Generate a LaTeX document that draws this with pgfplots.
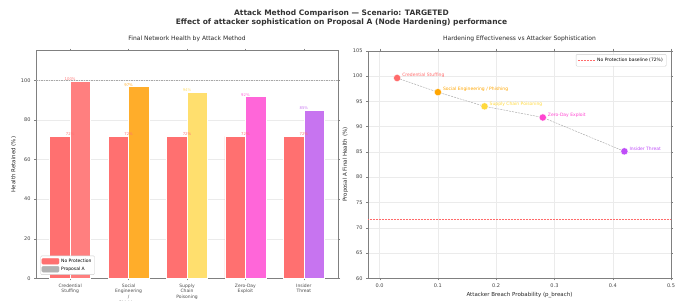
\documentclass[border=0pt]{standalone}
\usepackage{fontspec}
\setmainfont{DejaVu Sans}
\usepackage{pgfplots}
\pgfplotsset{compat=1.18}
\definecolor{noprot}{HTML}{FF7070}
\definecolor{cA}{HTML}{FF7F7F}
\definecolor{sA}{HTML}{FFAD2A}
\definecolor{pA}{HTML}{FFDF6E}
\definecolor{zA}{HTML}{FF66D9}
\definecolor{iA}{HTML}{C774F0}
\definecolor{cM}{HTML}{FF6B6B}
\definecolor{sM}{HTML}{FFA500}
\definecolor{pM}{HTML}{FFD93D}
\definecolor{zM}{HTML}{FF44D0}
\definecolor{iM}{HTML}{BF4DF8}
\definecolor{refline}{HTML}{A8A8A8}
\begin{document}
\begin{tikzpicture}
\useasboundingbox (0pt,0pt) rectangle (683pt,300pt);
\node[font=\fontsize{7.5}{9}\selectfont\bfseries, align=center, text=black!80] at (341.5pt,282pt) {Attack Method Comparison — Scenario: TARGETED\\Effect of attacker sophistication on Proposal A (Node Hardening) performance};
\pgfplotsset{
  every axis/.append style={
    /pgf/number format/assume math mode=true,
    scale only axis,
    axis line style={black!50},
    tick style={black!50},
    tick align=outside,
    major tick length=2pt,
    ticklabel style={font=\fontsize{5}{6}\selectfont, text=black!75},
    label style={font=\fontsize{5.5}{6.5}\selectfont, text=black!85},
    title style={font=\fontsize{6}{7}\selectfont, text=black!85, yshift=-1pt},
    grid style={black!8, line width=0.4pt},
  }
}
\begin{axis}[
  at={(36pt,21.7pt)}, anchor=south west,
  width=302pt, height=227.6pt,
  xmin=-0.585, xmax=4.585, ymin=0, ymax=115,
  xtick={0,1,2,3,4},
  xticklabels={Credential\\Stuffing, Social\\Engineering\\/\\Phishing, Supply\\Chain\\Poisoning, Zero-Day\\Exploit, Insider\\Threat},
  xticklabel style={align=center, font=\fontsize{4.5}{5.6}\selectfont, text=black!70},
  ytick={0,20,40,60,80,100},
  ymajorgrids,
  ylabel={Health Retained (\%)},
  ylabel style={yshift=-2pt},
  title={Final Network Health by Attack Method},
  legend style={at={(0.015,0.015)}, anchor=south west, font=\fontsize{4.5}{5}\selectfont, draw=black!20, rounded corners=1pt, inner sep=1pt, row sep=-1pt},
  legend cell align=left,
  nodes near coords style={font=\fontsize{3.8}{4}\selectfont, inner sep=0.3pt, anchor=south},
]
\addlegendimage{area legend, fill=noprot, draw=noprot}
\addlegendentry{No Protection}
\addlegendimage{area legend, fill=black!30, draw=black!30}
\addlegendentry{Proposal A}
\addplot[forget plot, draw=refline, dash pattern=on 1.5pt off 1pt, line width=0.35pt] coordinates {(-0.585,100) (4.585,100)};
\addplot[forget plot, ybar, bar width=0.35, bar shift=-0.175, fill=noprot, draw=white, line width=0.5pt,
  nodes near coords, point meta=explicit symbolic, every node near coord/.append style={text=noprot}]
  coordinates {(0,71.7)[72\%] (1,71.7)[72\%] (2,71.7)[72\%] (3,71.7)[72\%] (4,71.7)[72\%]};
\addplot[forget plot, ybar, bar width=0.35, bar shift=0.175, fill=cA, draw=white, line width=0.5pt,
  nodes near coords, point meta=explicit symbolic, every node near coord/.append style={text=cA}]
  coordinates {(0,99.6)[100\%]};
\addplot[forget plot, ybar, bar width=0.35, bar shift=0.175, fill=sA, draw=white, line width=0.5pt,
  nodes near coords, point meta=explicit symbolic, every node near coord/.append style={text=sA}]
  coordinates {(1,96.8)[97\%]};
\addplot[forget plot, ybar, bar width=0.35, bar shift=0.175, fill=pA, draw=white, line width=0.5pt,
  nodes near coords, point meta=explicit symbolic, every node near coord/.append style={text=pA}]
  coordinates {(2,94.0)[94\%]};
\addplot[forget plot, ybar, bar width=0.35, bar shift=0.175, fill=zA, draw=white, line width=0.5pt,
  nodes near coords, point meta=explicit symbolic, every node near coord/.append style={text=zA}]
  coordinates {(3,91.8)[92\%]};
\addplot[forget plot, ybar, bar width=0.35, bar shift=0.175, fill=iA, draw=white, line width=0.5pt,
  nodes near coords, point meta=explicit symbolic, every node near coord/.append style={text=iA}]
  coordinates {(4,85.1)[85\%]};
\end{axis}
\begin{axis}[
  at={(368pt,21.7pt)}, anchor=south west,
  width=303pt, height=227.6pt,
  xmin=-0.02, xmax=0.5, ymin=60, ymax=105,
  xtick={0,0.1,0.2,0.3,0.4,0.5},
  xticklabel style={/pgf/number format/.cd, fixed, fixed zerofill, precision=1},
  ytick={60,65,...,105},
  grid=major,
  xlabel={Attacker Breach Probability (p\_breach)},
  xlabel style={yshift=2pt},
  ylabel={Proposal A Final Health (\%)},
  ylabel style={yshift=-2pt},
  title={Hardening Effectiveness vs Attacker Sophistication},
  legend style={at={(0.985,0.985)}, anchor=north east, font=\fontsize{4.5}{5}\selectfont, draw=black!20, rounded corners=1pt, inner sep=1.5pt},
  legend cell align=left,
  nodes near coords style={font=\fontsize{4.5}{5}\selectfont, inner sep=0pt, anchor=west, xshift=5pt, yshift=2.5pt},
]
\addplot[draw=cM, dash pattern=on 0.6pt off 0.9pt, line width=0.5pt] coordinates {(-0.02,71.6) (0.5,71.6)};
\addlegendentry{No Protection baseline (72\%)}
\addplot[forget plot, draw=refline, dash pattern=on 2pt off 1pt, line width=0.45pt] coordinates {(0.03,99.6) (0.10,96.8) (0.18,94.0) (0.28,91.8) (0.42,85.1)};
\addplot[forget plot, only marks, mark=*, mark size=3.6pt, mark options={fill=cM, draw=white, line width=0.3pt},
  nodes near coords, point meta=explicit symbolic, every node near coord/.append style={text=cM}]
  coordinates {(0.03,99.6)[Credential Stuffing]};
\addplot[forget plot, only marks, mark=*, mark size=3.6pt, mark options={fill=sM, draw=white, line width=0.3pt},
  nodes near coords, point meta=explicit symbolic, every node near coord/.append style={text=sM}]
  coordinates {(0.10,96.8)[Social Engineering / Phishing]};
\addplot[forget plot, only marks, mark=*, mark size=3.6pt, mark options={fill=pM, draw=white, line width=0.3pt},
  nodes near coords, point meta=explicit symbolic, every node near coord/.append style={text=pM}]
  coordinates {(0.18,94.0)[Supply Chain Poisoning]};
\addplot[forget plot, only marks, mark=*, mark size=3.6pt, mark options={fill=zM, draw=white, line width=0.3pt},
  nodes near coords, point meta=explicit symbolic, every node near coord/.append style={text=zM}]
  coordinates {(0.28,91.8)[Zero-Day Exploit]};
\addplot[forget plot, only marks, mark=*, mark size=3.6pt, mark options={fill=iM, draw=white, line width=0.3pt},
  nodes near coords, point meta=explicit symbolic, every node near coord/.append style={text=iM}]
  coordinates {(0.42,85.1)[Insider Threat]};
\end{axis}
\end{tikzpicture}
\end{document}
